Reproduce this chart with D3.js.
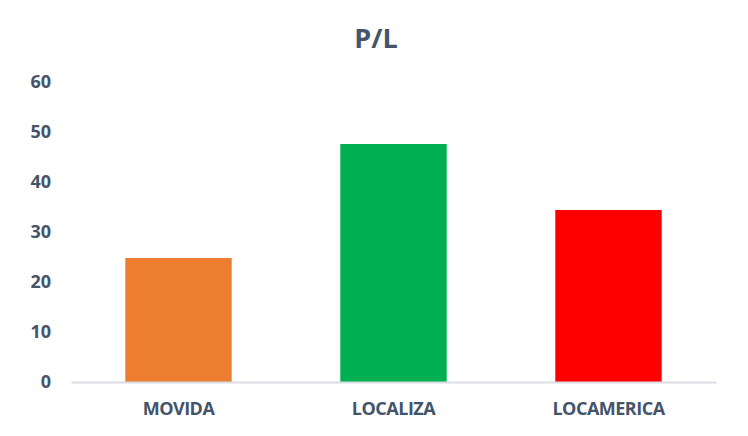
<!DOCTYPE html>
<meta charset="utf-8">
<style>

body {
  margin: 0;
  background: #fff;
  font-family: "Open Sans", sans-serif;
}

.tick text, .cat text {
  fill: #44546a;
  font-weight: bold;
}

</style>
<body>
<script src="https://cdn.jsdelivr.net/npm/d3@7"></script>
<script>

const categories = ["MOVIDA", "LOCALIZA", "LOCAMERICA"];
const values = [24.8, 47.6, 34.4];
const colors = ["#ed7d31", "#00b050", "#ff0000"];
const yTicks = [0, 10, 20, 30, 40, 50, 60];

const width = 748, height = 436;
const margin = {top: 82, right: 32, bottom: 54, left: 71};

const svg = d3.select("body").append("svg")
    .attr("width", width)
    .attr("height", height);

const x = d3.scaleBand()
    .domain(categories)
    .range([margin.left, width - margin.right])
    .paddingInner(0.505)
    .paddingOuter(0.2525);

const y = d3.scaleLinear()
    .domain([0, 60])
    .range([height - margin.bottom, margin.top]);

// title
svg.append("text")
    .attr("x", 376)
    .attr("y", 48)
    .attr("text-anchor", "middle")
    .attr("fill", "#44546a")
    .style("font-size", "27px")
    .style("font-weight", "bold")
    .text("P/L");

// bars
svg.append("g")
  .selectAll("rect")
  .data(values)
  .join("rect")
    .attr("x", (d, i) => x(categories[i]))
    .attr("width", x.bandwidth())
    .attr("y", d => y(d))
    .attr("height", d => y(0) - y(d))
    .attr("fill", (d, i) => colors[i]);

// y axis labels, no line
const yAxis = svg.append("g")
    .attr("transform", `translate(${margin.left},0)`)
    .call(d3.axisLeft(y).tickValues(yTicks).tickSize(0).tickPadding(20));
yAxis.select(".domain").remove();
yAxis.selectAll("text")
    .style("font-size", "18px")
    .style("font-family", "'Open Sans', sans-serif");

// x axis baseline + labels
const xAxis = svg.append("g")
    .attr("class", "cat")
    .attr("transform", `translate(0,${y(0)})`)
    .call(d3.axisBottom(x).tickSize(0).tickPadding(20));
xAxis.select(".domain")
    .attr("stroke", "#d9dde3")
    .attr("stroke-width", 2);
xAxis.selectAll("text")
    .style("font-size", "18px")
    .style("font-family", "'Open Sans', sans-serif")
    .style("letter-spacing", "-0.5px");

</script>
